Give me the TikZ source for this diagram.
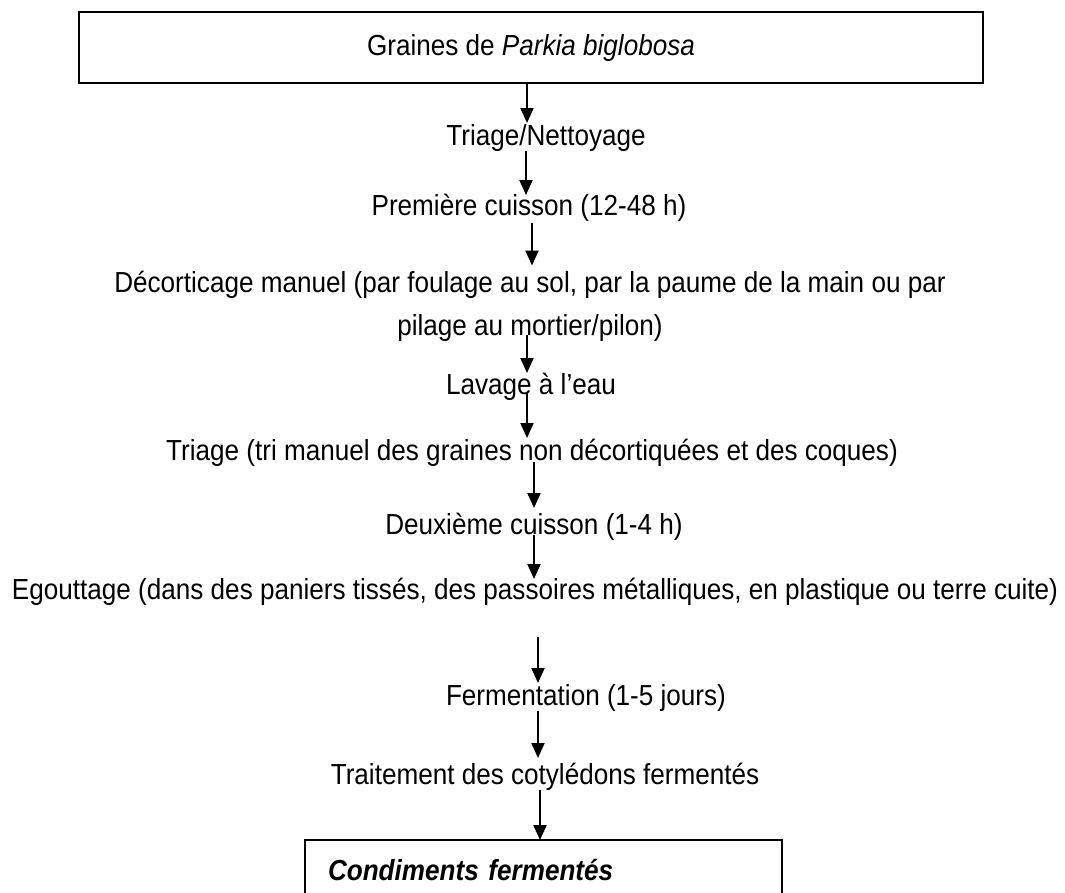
\documentclass[tikz,border=0pt]{standalone}
\usepackage{fontspec}
\setmainfont{Liberation Sans}[FakeStretch=0.9]
\usepackage{tikz}
\usetikzlibrary{arrows.meta}
\tikzset{
    step-text/.style = {inner sep=0pt, outer sep=0pt, text height=20pt, text depth=6pt, font=\fontsize{29}{35}\selectfont},
    step-box/.style = {draw=black, line width=2pt, rectangle, inner sep=0pt, outer sep=0pt, font=\fontsize{29}{35}\selectfont},
    flow-arrow/.style = {line width=2pt, -{Triangle[length=15pt,width=13pt]}},
}

\begin{document}
\begin{tikzpicture}[x=1pt,y=-1pt]
\clip (0,0) rectangle (1065,892);
\node[step-box, minimum width=904pt, minimum height=71pt] (graines) at (531,47.5) {Graines de \textit{Parkia biglobosa}};
\node[step-text] (nettoyage) at (546,138) {Triage/Nettoyage};
\node[step-text] (cuisson1) at (529,208) {Première cuisson (12-48 h)};
\node[inner sep=0pt, outer sep=0pt, align=center, anchor=north, font=\fontsize{29}{43}\selectfont] (decorticage) at (530,271.5) {Décorticage manuel (par foulage au sol, par la paume de la main ou par\\pilage au mortier/pilon)};
\node[step-text] (lavage) at (531,387) {Lavage à l’eau};
\node[step-text] (tri) at (532,453) {Triage (tri manuel des graines non décortiquées et des coques)};
\node[step-text] (cuisson2) at (534,527) {Deuxième cuisson (1-4 h)};
\node[step-text] (egouttage) at (535,592) {Egouttage (dans des paniers tissés, des passoires métalliques, en plastique ou terre cuite)};
\node[step-text] (fermentation) at (586,698) {Fermentation (1-5 jours)};
\node[step-text] (traitement) at (545,777) {Traitement des cotylédons fermentés};
\node[step-box, anchor=north west, minimum width=477pt, minimum height=60pt, inner xsep=23pt, text width=431pt, align=left] (condiments) at (305,840) {\textbf{\textit{Condiments fermentés}}};

\draw[flow-arrow] ([xshift=-4pt]graines.south) -- ([xshift=-19pt,yshift=2pt]nettoyage.north);
\draw[flow-arrow] ([xshift=-20pt]nettoyage.south) -- ([xshift=-3pt]cuisson1.north);
\draw[flow-arrow] ([xshift=3pt,yshift=-2pt]cuisson1.south) -- ([xshift=2pt,yshift=6pt]decorticage.north);
\draw[flow-arrow] ([xshift=-3pt,yshift=6.5pt]decorticage.south) -- ([xshift=-4pt,yshift=1pt]lavage.north);
\draw[flow-arrow] ([xshift=-4pt,yshift=7pt]lavage.south) -- ([xshift=-5pt,yshift=2pt]tri.north);
\draw[flow-arrow] ([xshift=2pt,yshift=4pt]tri.south) -- ([yshift=6pt]cuisson2.north);
\draw[flow-arrow] ([yshift=5pt]cuisson2.south) -- ([xshift=-1pt]egouttage.north);
\draw[flow-arrow] ([xshift=3pt,yshift=-32pt]egouttage.south) -- ([xshift=-48pt,yshift=2pt]fermentation.north);
\draw[flow-arrow] ([xshift=-48pt]fermentation.south) -- ([xshift=-7pt,yshift=6pt]traitement.north);
\draw[flow-arrow] ([xshift=-5pt]traitement.south) -- ([xshift=-3.5pt]condiments.north);
\end{tikzpicture}
\end{document}
